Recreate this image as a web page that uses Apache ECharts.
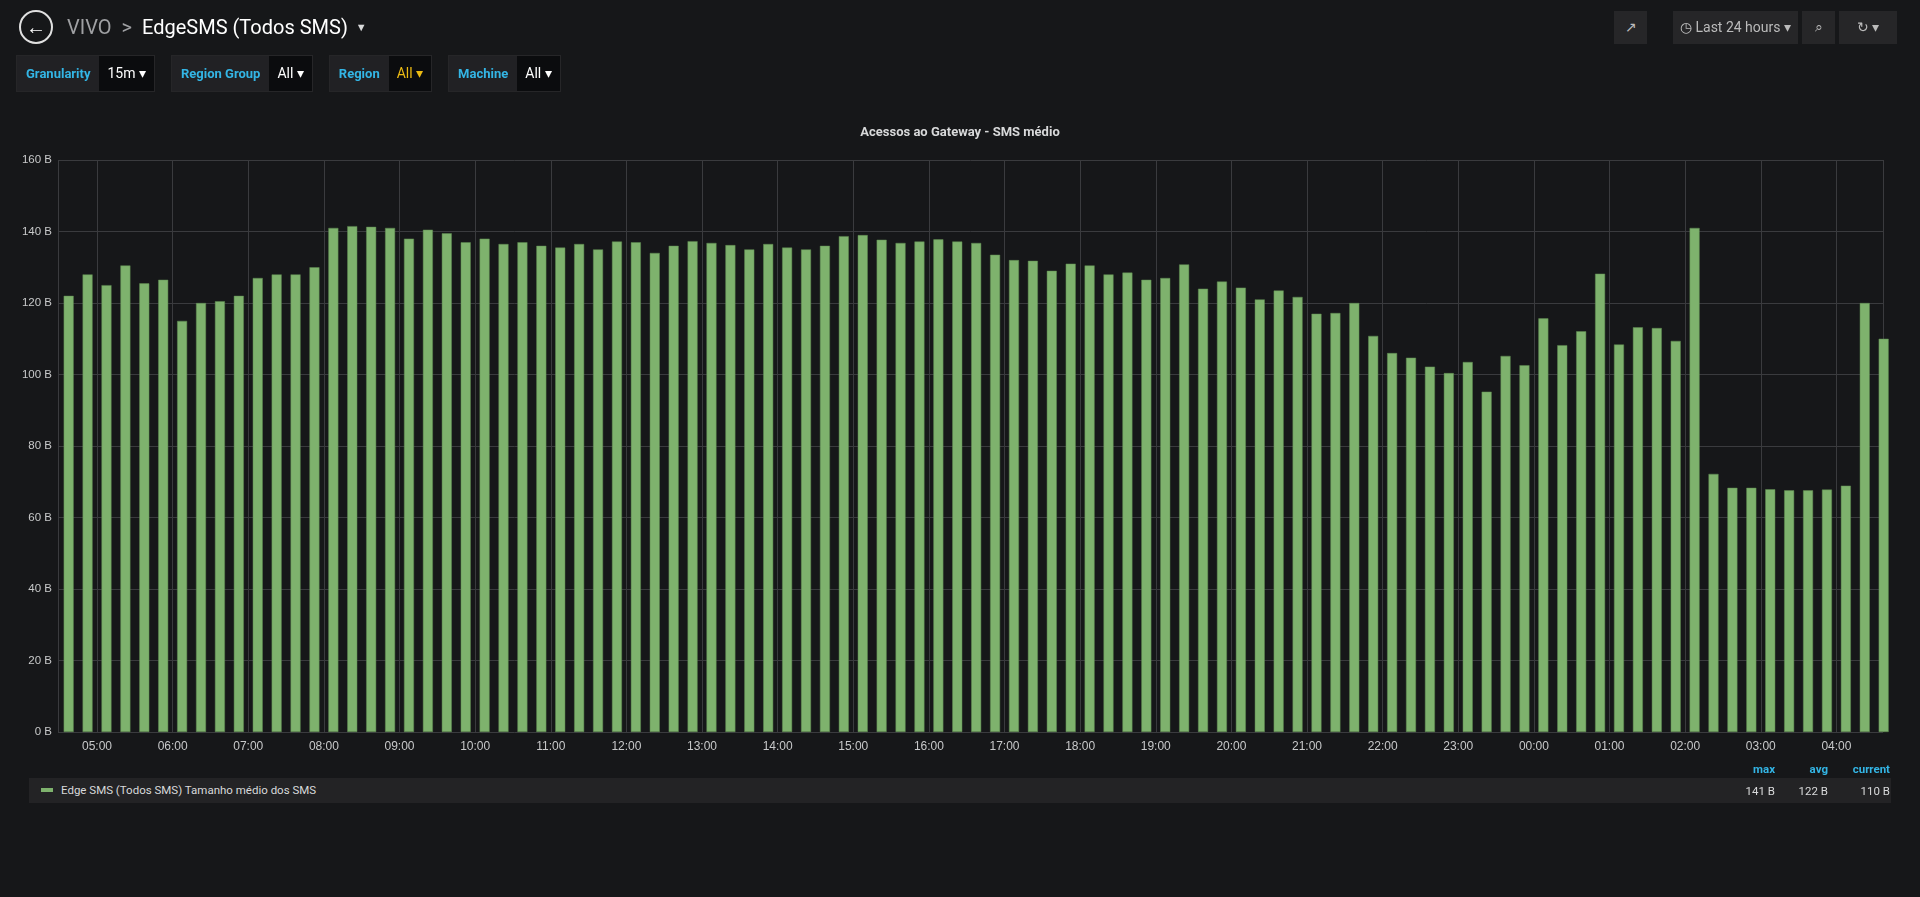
<!DOCTYPE html>
<html lang="en">
<head>
    <meta charset="UTF-8">
    <title>EdgeSMS (Todos SMS)</title>
    <script src="https://cdn.jsdelivr.net/npm/echarts@6/dist/echarts.min.js"></script>
    <style>
        body { margin: 0; width: 1920px; height: 897px; background: #161719; font-family: Roboto, "Noto Sans", sans-serif; color: #d8d9da; overflow: hidden; position: relative; }
        #chart { position: absolute; left: 0; top: 0; width: 1920px; height: 897px; }
        .hdr { position: absolute; left: 19px; top: 10px; display: flex; align-items: center; font-size: 20px; }
        .back { width: 30px; height: 30px; border: 2px solid #e0e0e0; border-radius: 50%; display: flex; align-items: center; justify-content: center; font-size: 20px; color: #fff; font-weight: bold; margin-right: 14px; }
        .vars { position: absolute; left: 16px; top: 55px; display: flex; }
        .var { display: flex; height: 35px; margin-right: 16px; background: #212124; border: 1px solid #262628; }
        .var .l { color: #33b5e5; font-size: 13px; font-weight: bold; padding: 0 9px; line-height: 35px; }
        .var .v { background: #0b0c0e; color: #fff; font-size: 14px; padding: 0 8px; line-height: 35px; }
        .btn { position: absolute; top: 11px; height: 33px; background: #262628; color: #bbb; font-size: 14px; line-height: 33px; text-align: center; }
        .legend { position: absolute; left: 29px; top: 778px; width: 1862px; height: 25px; background: #232325; font-size: 11.5px; line-height: 25px; }
        .legend .sw { display: inline-block; width: 12px; height: 4px; background: #7eb26d; margin: 0 8px 2px 12px; vertical-align: middle; }
        .stat { position: absolute; font-size: 11.5px; text-align: right; }
        .sh { color: #33b5e5; font-weight: bold; top: 762px; }
        .sv { top: 784px; }
    </style>
</head>
<body>
    <div id="chart"></div>
    <div class="hdr"><div class="back">&#8592;</div><span style="color:#9fa0a3">VIVO</span><span style="color:#9fa0a3;margin:0 10px">&gt;</span><span style="color:#fff">EdgeSMS (Todos SMS)</span><span style="font-size:11px;margin-left:8px">&#9660;</span></div>
    <div class="vars">
        <div class="var"><span class="l">Granularity</span><span class="v">15m &#9662;</span></div>
        <div class="var"><span class="l">Region Group</span><span class="v">All &#9662;</span></div>
        <div class="var"><span class="l">Region</span><span class="v" style="color:#ecbb13">All &#9662;</span></div>
        <div class="var"><span class="l">Machine</span><span class="v">All &#9662;</span></div>
    </div>
    <div class="btn" style="left:1614px;width:33px">&#8599;</div>
    <div class="btn" style="left:1673px;width:125px">&#9719; Last 24 hours &#9662;</div>
    <div class="btn" style="left:1802px;width:33px">&#8981;</div>
    <div class="btn" style="left:1839px;width:58px">&#8635; &#9662;</div>
    <div class="legend"><span class="sw"></span>Edge SMS (Todos SMS) Tamanho médio dos SMS</div>
    <div class="stat sh" style="left:1700px;width:75px">max</div>
    <div class="stat sh" style="left:1760px;width:68px">avg</div>
    <div class="stat sh" style="left:1820px;width:70px">current</div>
    <div class="stat sv" style="left:1700px;width:75px">141 B</div>
    <div class="stat sv" style="left:1760px;width:68px">122 B</div>
    <div class="stat sv" style="left:1820px;width:70px">110 B</div>
<script>
    // tamanho medio dos SMS, um valor a cada 15 minutos a partir de 04:37
    var values = [122, 128, 125, 130.5, 125.5, 126.5, 115, 120, 120.5, 122, 127, 128, 128, 130,
        141, 141.5, 141.3, 141, 138, 140.5, 139.5, 137, 138, 136.5, 137, 136, 135.5, 136.5, 135,
        137.2, 137, 134, 136, 137.3, 136.8, 136.2, 135, 136.5, 135.5, 135, 136, 138.7, 139, 137.7,
        136.8, 137.2, 137.8, 137.2, 136.8, 133.5, 132, 131.8, 129, 131, 130.5, 128, 128.5, 126.5,
        127, 130.8, 124, 126, 124.3, 121, 123.5, 121.7, 117, 117.2, 120, 110.8, 106, 104.7, 102.2,
        100.4, 103.5, 95.2, 105.2, 102.6, 115.7, 108.2, 112.1, 128.2, 108.4, 113.2, 113, 109.4,
        141, 72.2, 68.3, 68.3, 67.9, 67.6, 67.6, 67.8, 68.9, 120, 110];
    var yTicks = [0, 20, 40, 60, 80, 100, 120, 140, 160];

    var start = new Date(2020, 0, 1, 4, 33).getTime();
    var step = 15 * 60 * 1000;
    var firstBar = new Date(2020, 0, 1, 4, 37, 30).getTime();
    var data = values.map(function (v, i) { return [firstBar + i * step, v]; });

    var myChart = echarts.init(document.getElementById('chart'));
    myChart.setOption({
        backgroundColor: 'transparent',
        animation: false,
        title: {
            text: 'Acessos ao Gateway - SMS médio', left: 'center', top: 121,
            textStyle: { color: '#d8d9da', fontSize: 13, fontWeight: 'bold', fontFamily: 'Roboto' }
        },
        grid: { left: 58, right: 37, top: 160, bottom: 165 },
        xAxis: {
            type: 'time', min: start, max: start + 24 * 3600 * 1000,
            interval: 3600 * 1000, minInterval: 3600 * 1000, maxInterval: 3600 * 1000,
            axisLine: { show: false }, axisTick: { show: false },
            axisLabel: {
                color: '#c8c9ca', fontSize: 12, margin: 9,
                formatter: function (t) {
                    var d = new Date(t);
                    return ('0' + d.getHours()).slice(-2) + ':' + ('0' + d.getMinutes()).slice(-2);
                }
            },
            splitLine: { show: true, lineStyle: { color: '#3a3b3e', width: 1 } }
        },
        yAxis: {
            type: 'value', min: yTicks[0], max: yTicks[yTicks.length - 1], interval: 20,
            axisLine: { show: false }, axisTick: { show: false },
            axisLabel: { color: '#c8c9ca', fontSize: 11.5, margin: 6, formatter: '{value} B' },
            splitLine: { lineStyle: { color: '#3a3b3e', width: 1 } }
        },
        series: [{
            type: 'bar', data: data, barWidth: 10, clip: true,
            itemStyle: { color: '#7eb26d', borderColor: '#5e8a50', borderWidth: 0.5 }
        }]
    });
</script>
</body>
</html>
